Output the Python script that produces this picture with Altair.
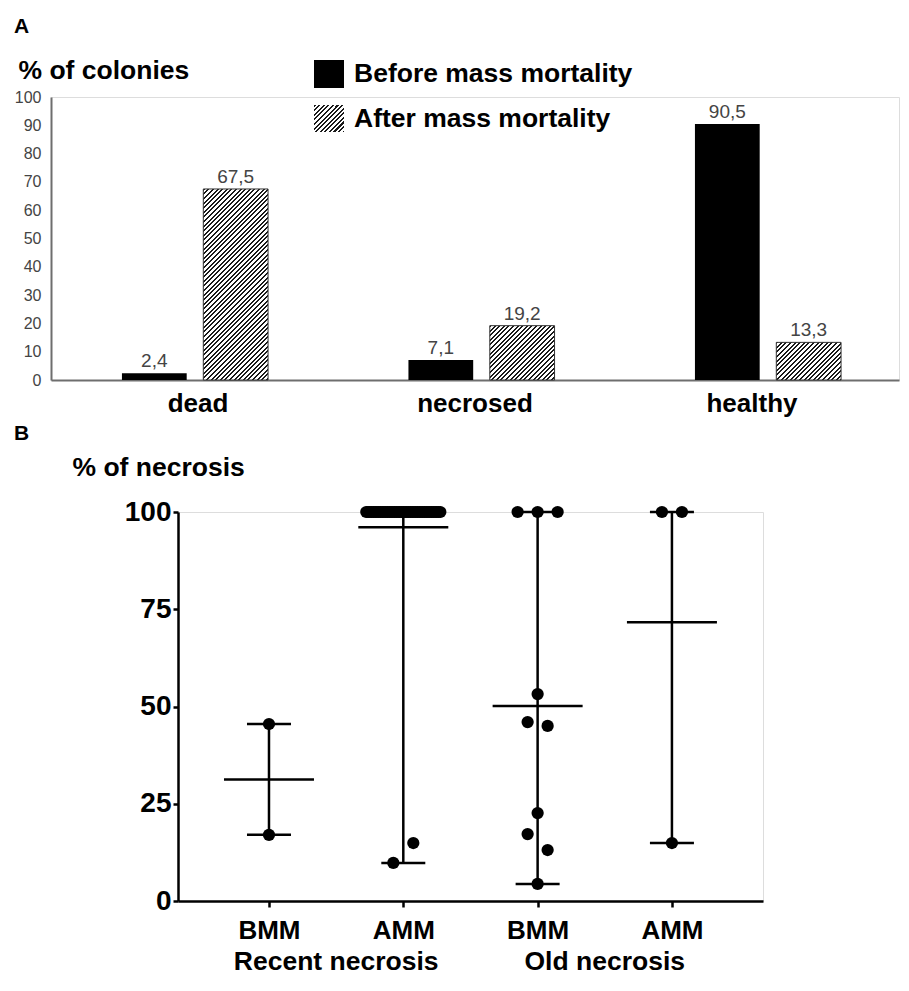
import altair as alt
import pandas as pd

# ---------------- data: panel A ----------------
categories = ["dead", "necrosed", "healthy"]
periods = ["Before", "After"]
legend_labels = ["Before mass mortality", "After mass mortality"]
before_values = [2.4, 7.1, 90.5]
after_values = [67.5, 19.2, 13.3]
y_ticks_a = [0, 10, 20, 30, 40, 50, 60, 70, 80, 90, 100]

# ---------------- data: panel B ----------------
groups = ["Recent BMM", "Recent AMM", "Old BMM", "Old AMM"]
group_tick_labels = ["BMM", "AMM", "BMM", "AMM"]
group_stage = ["Recent necrosis", "Recent necrosis", "Old necrosis", "Old necrosis"]
stages = ["Recent necrosis", "Old necrosis"]
recent_bmm = [45.5, 17.0]
recent_amm = [100, 100, 100, 100, 100, 100, 100, 100, 100, 100,
              100, 100, 100, 100, 100, 100, 100, 100, 100, 100,
              100, 100, 100, 100, 100, 100, 100, 100, 100, 100,
              100, 100, 100, 100, 100, 100, 100, 100, 100, 100,
              100, 100, 100, 9.8, 14.9]
old_bmm = [100, 100, 100, 53.2, 46.0, 45.0, 22.6, 17.2, 13.1, 4.4]
old_amm = [100, 100, 14.9]
y_ticks_b = [0, 25, 50, 75, 100]

FONT = "Liberation Sans, Arial, Helvetica, sans-serif"

# ---------------- layout constants ----------------
WA, HA = 848, 283
STEP_A = 286.5                        # px between category centres
XA_MIN = -144.0 / STEP_A
XA_MAX = XA_MIN + WA / STEP_A
BAR_W, BAR_GAP = 0.226, 0.058         # in category-slot units
CAT_LABEL_SHIFT_PX = [3, -6.5, -16]   # small horizontal nudges of category labels
WB, HB = 585, 389
XMIN, XMAX = 0.3226, 4.678


def comma(v):
    return f"{v:.1f}".replace(".", ",")


def hatch(w, h, period=4.6, dark=0.45, ink="#1a1a1a", bg="white"):
    """Diagonal /// stripes as a hard-stop linear gradient on a w x h box."""
    k = 1.02 * (w + h) * w / (w * w + h * h)
    tper = period * w / (k * (w * w + h * h))
    stops = []
    t = 0.0
    while t < 1.0:
        a = min(1.0, t + tper * dark)
        b = min(1.0, t + tper)
        stops += [{"offset": t, "color": ink}, {"offset": a, "color": ink},
                  {"offset": a, "color": bg}, {"offset": b, "color": bg}]
        t += tper
    return {"gradient": "linear", "x1": 0, "y1": 0, "x2": k, "y2": k * h / w,
            "stops": stops}


def letter(t, x, y):
    return alt.Chart(pd.DataFrame({"t": [t]})).mark_text(
        align="left", baseline="alphabetic", font=FONT, fontSize=21,
        fontWeight="bold", color="black").encode(text="t:N", x=alt.value(x),
                                                  y=alt.value(y))


# ---------------- panel A ----------------
rows = []
for i, (c, b, a) in enumerate(zip(categories, before_values, after_values)):
    lo_b, hi_b = i - BAR_GAP / 2 - BAR_W, i - BAR_GAP / 2
    lo_a, hi_a = i + BAR_GAP / 2, i + BAR_GAP / 2 + BAR_W
    rows.append({"category": c, "slot": i, "period": "Before", "value": b,
                 "label": comma(b), "x0": lo_b, "x1": hi_b, "xm": (lo_b + hi_b) / 2})
    rows.append({"category": c, "slot": i, "period": "After", "value": a,
                 "label": comma(a), "x0": lo_a, "x1": hi_a, "xm": (lo_a + hi_a) / 2})
dfA = pd.DataFrame(rows)
dfCat = pd.DataFrame({"category": categories,
                      "lx": [i + s / STEP_A for i, s in enumerate(CAT_LABEL_SHIFT_PX)]})

xscale_a = alt.Scale(domain=[XA_MIN, XA_MAX], nice=False, zero=False)
x_axis_a = alt.Axis(values=[0, 1, 2], labels=False, title=None, ticks=False,
                    tickSize=0, domainColor="#6e6e6e", domainWidth=2, grid=False)
yscale_a = alt.Scale(domain=[0, 100], nice=False)
y_axis_a = alt.Axis(values=y_ticks_a, title="% of colonies", titleAngle=0,
                    titleX=-33, titleY=-19, titleAlign="left",
                    titleBaseline="alphabetic", titleFont=FONT,
                    titleFontSize=26.5, titleFontWeight="bold",
                    titleColor="black", labelFont=FONT, labelFontSize=16,
                    labelColor="#444444", ticks=False, tickSize=0,
                    labelPadding=10, domainColor="#6e6e6e", domainWidth=2,
                    grid=False, labelOverlap=False)
x_a = alt.X("x0:Q", scale=xscale_a, axis=x_axis_a)
y_a = alt.Y("value:Q", scale=yscale_a, axis=y_axis_a)

base_a = alt.Chart(dfA).encode(x=x_a, x2="x1:Q", y=y_a, y2=alt.datum(0))
bar_px = BAR_W * STEP_A

layers_a = [base_a.transform_filter(alt.datum.period == "Before").mark_bar(color="black")]
for c, a in zip(categories, after_values):
    g = hatch(bar_px, a / 100.0 * HA)
    layers_a.append(
        base_a.transform_filter((alt.datum.period == "After") & (alt.datum.category == c))
        .mark_bar(fill=g, stroke="#333333", strokeWidth=1)
    )
layers_a.append(alt.Chart(dfA).mark_text(
    dy=-6, baseline="alphabetic", font=FONT, fontSize=19, color="#444444").encode(
    x=alt.X("xm:Q", scale=xscale_a, axis=x_axis_a), y=y_a, text="label:N"))
layers_a.append(alt.Chart(dfCat).mark_text(
    baseline="alphabetic", font=FONT, fontSize=26, fontWeight="bold", color="black"
).encode(x=alt.X("lx:Q", scale=xscale_a, axis=x_axis_a), y=alt.value(HA + 32),
         text="category:N"))

leg_black = alt.Chart(pd.DataFrame({"label": [legend_labels[0]]})).mark_rect(color="black").encode(
    x=alt.value(263), x2=alt.value(293), y=alt.value(-37), y2=alt.value(-9))
leg_hatch = alt.Chart(pd.DataFrame({"label": [legend_labels[1]]})).mark_rect(
    fill=hatch(30, 27), strokeWidth=0).encode(
    x=alt.value(263), x2=alt.value(293), y=alt.value(8), y2=alt.value(35))
leg_t1 = alt.Chart(pd.DataFrame({"label": [legend_labels[0]]})).mark_text(
    align="left", baseline="middle", font=FONT, fontSize=26.5, fontWeight="bold",
    color="black").encode(text="label:N", x=alt.value(303), y=alt.value(-23))
leg_t2 = alt.Chart(pd.DataFrame({"label": [legend_labels[1]]})).mark_text(
    align="left", baseline="middle", font=FONT, fontSize=26.5, fontWeight="bold",
    color="black").encode(text="label:N", x=alt.value(303), y=alt.value(22))

panel_a = alt.layer(*layers_a, leg_black, leg_hatch, leg_t1, leg_t2,
                    letter("A", -37, -64), letter("B", -37, 343)).properties(
    width=WA, height=HA)

# ---------------- panel B ----------------
PX_PER_UNIT = WB / (XMAX - XMIN)


def jitter(vals, row_tol=5.5, spacing=20.0, max_span=74.0):
    order = sorted(range(len(vals)), key=lambda i: vals[i])
    rws = []
    for i in order:
        if rws and vals[i] - vals[rws[-1][0]] < row_tol:
            rws[-1].append(i)
        else:
            rws.append([i])
    offs = [0.0] * len(vals)
    for r in rws:
        r = sorted(r)
        n = len(r)
        sp = spacing if n <= 1 else min(spacing, max_span / (n - 1))
        for k, i in enumerate(r):
            offs[i] = (k - (n - 1) / 2.0) * sp
    return offs


ptsB = []
for gi, (g, vals) in enumerate(zip(groups, [recent_bmm, recent_amm, old_bmm, old_amm])):
    pos = gi + 1
    for v, o in zip(vals, jitter(vals)):
        ptsB.append({"group": g, "pos": pos, "value": v, "xj": pos + o / PX_PER_UNIT})
dfB = pd.DataFrame(ptsB)

stage_rows = []
for s in stages:
    ps = [i + 1 for i, st in enumerate(group_stage) if st == s]
    stage_rows.append({"stage": s, "mid": sum(ps) / len(ps)})
dfS = pd.DataFrame(stage_rows)

label_expr = "[" + ",".join(f"'{t}'" for t in group_tick_labels) + "][round(datum.value)-1]"
x_b = alt.X("pos:Q", scale=alt.Scale(domain=[XMIN, XMAX], nice=False, zero=False),
            axis=alt.Axis(values=[1, 2, 3, 4], labelExpr=label_expr, title=None,
                          labelFont=FONT, labelFontSize=26, labelFontWeight="bold",
                          labelColor="black", tickSize=6, tickWidth=2.5,
                          tickColor="black", domainColor="black", domainWidth=2.5,
                          labelPadding=31, labelBaseline="alphabetic", grid=False))
y_axis_b = alt.Axis(values=y_ticks_b, title="% of necrosis", titleAngle=0,
                    titleX=-106, titleY=-37, titleAlign="left",
                    titleBaseline="alphabetic", titleFont=FONT, titleFontSize=26.5,
                    titleFontWeight="bold", titleColor="black", labelFont=FONT,
                    labelFontSize=28, labelFontWeight="bold", labelColor="black",
                    tickSize=5, tickWidth=2.5, tickColor="black",
                    domainColor="black", domainWidth=2.5, labelPadding=2, grid=False)
y_scale_b = alt.Scale(domain=[0, 100], nice=False)

baseB = alt.Chart(dfB)
range_rule = baseB.mark_rule(color="black", strokeWidth=2.5).encode(
    x=x_b, y=alt.Y("min(value):Q", scale=y_scale_b, axis=y_axis_b),
    y2=alt.Y2("max(value):Q"))
cap_lo = baseB.mark_tick(orient="horizontal", size=44, thickness=2.5, color="black").encode(
    x=x_b, y=alt.Y("min(value):Q", scale=y_scale_b, axis=y_axis_b))
cap_hi = baseB.mark_tick(orient="horizontal", size=44, thickness=2.5, color="black").encode(
    x=x_b, y=alt.Y("max(value):Q", scale=y_scale_b, axis=y_axis_b))
mean_tick = baseB.mark_tick(orient="horizontal", size=90, thickness=2.5, color="black").encode(
    x=x_b, y=alt.Y("mean(value):Q", scale=y_scale_b, axis=y_axis_b))
points = baseB.mark_circle(size=150, color="black", opacity=1).encode(
    x=alt.X("xj:Q", scale=alt.Scale(domain=[XMIN, XMAX], nice=False, zero=False)),
    y=alt.Y("value:Q", scale=y_scale_b, axis=y_axis_b))
stage_text = alt.Chart(dfS).mark_text(
    baseline="alphabetic", font=FONT, fontSize=26.5, fontWeight="bold", color="black"
).encode(x=alt.X("mid:Q"), y=alt.value(HB + 69), text="stage:N")

panel_b = alt.layer(range_rule, cap_lo, cap_hi, mean_tick, points,
                    stage_text).properties(width=WB, height=HB)

spacer = alt.Chart(pd.DataFrame({"k": [0]})).mark_point(opacity=0).properties(
    width=20, height=10)

row_b = alt.hconcat(spacer, panel_b, spacing=0)

chart = alt.vconcat(panel_a, row_b, spacing=8).properties(
    padding={"left": 5, "top": 7, "right": 0, "bottom": 0}
).configure_view(stroke=None).configure(background="white")

chart.save("out.html", embed_options={"renderer": "svg", "actions": False})
